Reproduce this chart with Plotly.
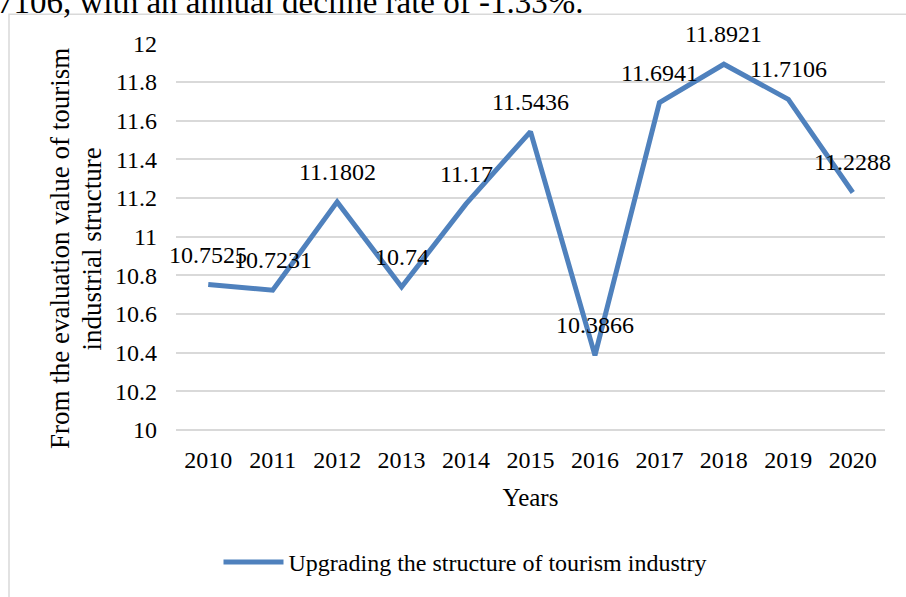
import plotly.graph_objects as go

years = ["2010", "2011", "2012", "2013", "2014", "2015", "2016", "2017", "2018", "2019", "2020"]
values = [10.7525, 10.7231, 11.1802, 10.74, 11.17, 11.5436, 10.3866, 11.6941, 11.8921, 11.7106, 11.2288]
labels = ["10.7525", "10.7231", "11.1802", "10.74", "11.17", "11.5436", "10.3866", "11.6941", "11.8921", "11.7106", "11.2288"]
series_name = "Upgrading the structure of tourism industry"
y_title_lines = ["From the evaluation value of tourism", "industrial structure"]
x_title = "Years"
top_text = "7106, with an annual decline rate of -1.33%."

FONT = "Liberation Serif, Times New Roman, serif"
BLUE = "#4F81BD"
GRID = "#d9d9d9"

# plot area geometry (pixels)
L, R, T, B = 176, 21, 43, 163
PH = 597 - T - B          # plot height
PW = 906 - L - R          # plot width
BOTTOM = T + PH


def px_y(py):
    return (BOTTOM - py) / PH


def px_x(px):
    return (px - L) / PW


fig = go.Figure()
fig.add_trace(go.Scatter(
    x=years, y=values, mode="lines", name=series_name,
    line=dict(color=BLUE, width=5),
))

ann = []
for i, (y, t) in enumerate(zip(values, labels)):
    ann.append(dict(x=i, y=y, xref="x", yref="y", text=t, showarrow=False, yshift=30,
                    xanchor="center", yanchor="middle",
                    font=dict(family=FONT, size=24, color="black")))

# y axis title (two lines)
ann.append(dict(xref="paper", yref="paper", x=px_x(60), y=px_y(250), text=y_title_lines[0],
                textangle=-90, showarrow=False, xanchor="center", yanchor="middle",
                font=dict(family=FONT, size=27, color="black")))
ann.append(dict(xref="paper", yref="paper", x=px_x(91.5), y=px_y(250), text=y_title_lines[1],
                textangle=-90, showarrow=False, xanchor="center", yanchor="middle",
                font=dict(family=FONT, size=27, color="black")))
# clipped text at top (continuation of the page text above the figure)
ann.append(dict(xref="paper", yref="paper", x=px_x(-5), y=px_y(1.5),
                text=top_text, showarrow=False, xanchor="left", yanchor="middle",
                font=dict(family=FONT, size=33, color="black")))

fig.update_layout(
    width=906, height=597,
    margin=dict(l=L, r=R, t=T, b=B),
    paper_bgcolor="white", plot_bgcolor="white",
    font=dict(family=FONT, size=24, color="black"),
    annotations=ann,
    showlegend=True,
    legend=dict(orientation="h", x=px_x(465), xanchor="center", y=px_y(565), yanchor="middle",
                font=dict(family=FONT, size=24, color="black"), itemwidth=60,
                bgcolor="rgba(0,0,0,0)"),
    shapes=[dict(type="rect", xref="paper", yref="paper",
                 x0=px_x(9), x1=px_x(915),
                 y0=px_y(610), y1=px_y(14),
                 line=dict(color=GRID, width=1.5), fillcolor="rgba(0,0,0,0)", layer="below")],
    xaxis=dict(type="category", range=[-0.5, 10.5], showgrid=False, zeroline=False,
               showline=False, ticks="", ticklabelstandoff=11,
               tickfont=dict(family=FONT, size=24, color="black"),
               title=dict(text=x_title, font=dict(family=FONT, size=25, color="black"), standoff=16)),
    yaxis=dict(range=[9.99, 12.002], dtick=0.2, tick0=10, showgrid=True, gridcolor=GRID, gridwidth=1.5,
               zeroline=False, showline=False, ticks="", ticklabelstandoff=18,
               tickfont=dict(family=FONT, size=24, color="black")),
)

fig.write_html("out.html")
